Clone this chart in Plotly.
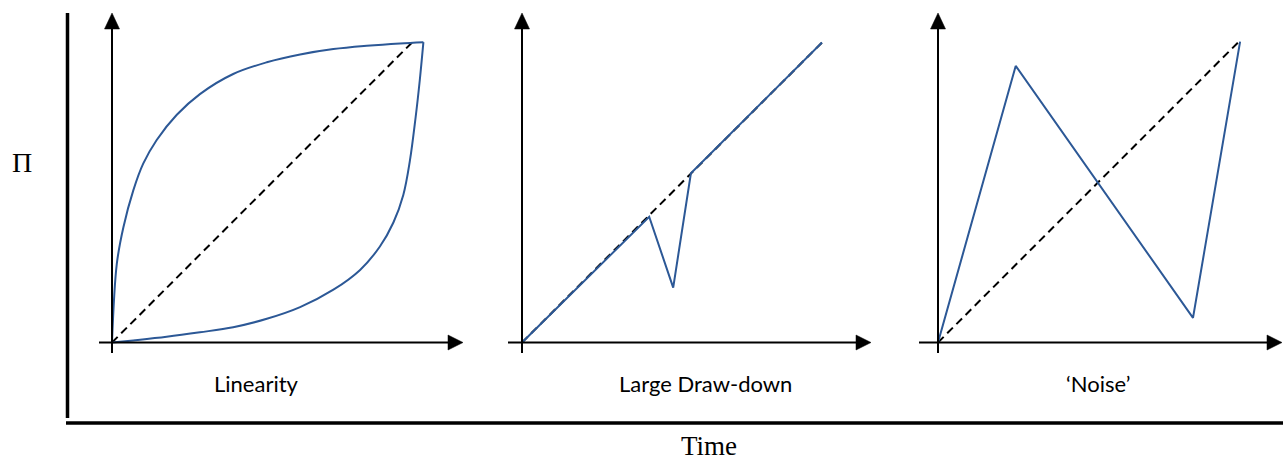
import plotly.graph_objects as go

W, H = 1283, 461

# ---- data (Time, Π) ----
# Panel 1: Linearity
lin_up_t = [0, 0.16, 0.38, 0.71, 1.04, 1.49, 2.16, 2.93, 4.04, 5.16, 6.27, 7.38, 8.49, 9.6, 10.38]
lin_up_p = [0, 2.62, 3.84, 5.07, 5.96, 6.75, 7.59, 8.28, 8.95, 9.34, 9.6, 9.78, 9.89, 9.97, 10.01]
lin_lo_t = [10.38, 10.26, 10.12, 9.93, 9.71, 9.38, 8.93, 8.27, 7.38, 6.27, 5.16, 4.04, 2.93, 1.82, 0.71, 0]
lin_lo_p = [10.01, 8.75, 7.5, 6.06, 4.92, 4.0, 3.2, 2.42, 1.76, 1.18, 0.79, 0.51, 0.34, 0.19, 0.07, 0]
# Panel 2: Large Draw-down
dd_t = [0, 4.24, 5.04, 5.63, 10.0]
dd_p = [0, 4.19, 1.83, 5.64, 10.0]
# Panel 3: 'Noise'
nz_t = [0, 2.59, 8.5, 10.07]
nz_p = [0, 9.22, 0.82, 10.03]
# Reference straight line
ref_t = [0, 10]
ref_p = [0, 10]

panel_titles = ["Linearity", "Large Draw-down", "\u2018Noise\u2019"]
y_label = "\u03a0"
x_label = "Time"

BLUE = "#2C5896"
SCALE = 30.0                      # pixels per data unit
ORIG_X = [112, 522, 938]          # pixel x of each panel origin
ORIG_Y = 342.5                    # pixel y of the panel origins
DOM_PX = [(90, 470), (498, 880), (905, 1283)]
YDOM_PX = (5, 362)
XAX_START = [99, 508, 919]        # pixel x where each time axis starts
XAX_TIP = [463, 871, 1282]        # pixel x of each arrow tip
Y_TIP, Y_BASE, Y_BOTTOM = 13, 29, 353

fig = go.Figure()
layout = dict(
    width=W, height=H, margin=dict(l=0, r=0, t=0, b=0),
    paper_bgcolor="white", plot_bgcolor="rgba(0,0,0,0)",
    showlegend=False,
)
shapes = []
annotations = []

series = [
    [(lin_up_t, lin_up_p, "spline"), (lin_lo_t, lin_lo_p, "spline")],
    [(dd_t, dd_p, "linear")],
    [(nz_t, nz_p, "linear")],
]

ydom = [1 - YDOM_PX[1] / H, 1 - YDOM_PX[0] / H]
yrange = [(ORIG_Y - YDOM_PX[1]) / SCALE, (ORIG_Y - YDOM_PX[0]) / SCALE]

for i in range(3):
    xa = "x" if i == 0 else f"x{i+1}"
    ya = "y" if i == 0 else f"y{i+1}"
    xkey = "xaxis" if i == 0 else f"xaxis{i+1}"
    ykey = "yaxis" if i == 0 else f"yaxis{i+1}"
    d0, d1 = DOM_PX[i]
    ox = ORIG_X[i]
    layout[xkey] = dict(domain=[d0 / W, d1 / W],
                        range=[(d0 - ox) / SCALE, (d1 - ox) / SCALE],
                        visible=False, fixedrange=True, anchor=ya)
    layout[ykey] = dict(domain=ydom, range=yrange,
                        visible=False, fixedrange=True, anchor=xa)

    # dashed reference
    fig.add_trace(go.Scatter(x=ref_t, y=ref_p, mode="lines", xaxis=xa, yaxis=ya,
                             line=dict(color="black", width=2, dash="8px,5px"),
                             hoverinfo="skip"))
    for (t, p, shp) in series[i]:
        fig.add_trace(go.Scatter(x=t, y=p, mode="lines", xaxis=xa, yaxis=ya,
                                 line=dict(color=BLUE, width=2, shape=shp, smoothing=1.0),
                                 hoverinfo="skip"))

    # axes with arrows (data units of each panel)
    yb = (ORIG_Y - Y_BOTTOM) / SCALE
    ytip = (ORIG_Y - Y_TIP) / SCALE
    ybase = (ORIG_Y - Y_BASE) / SCALE
    xs = (XAX_START[i] - ox) / SCALE
    xtip = (XAX_TIP[i] - ox) / SCALE
    xbase = xtip - 15 / SCALE
    hw = 7.5 / SCALE
    shapes.append(dict(type="line", xref=xa, yref=ya, x0=0, x1=0, y0=yb, y1=ybase + 0.05,
                       line=dict(color="black", width=2)))
    shapes.append(dict(type="path", xref=xa, yref=ya,
                       path=f"M {-hw},{ybase} L {hw},{ybase} L 0,{ytip} Z",
                       fillcolor="black", line=dict(color="black", width=0.5)))
    shapes.append(dict(type="line", xref=xa, yref=ya, x0=xs, x1=xbase + 0.05, y0=0, y1=0,
                       line=dict(color="black", width=2)))
    shapes.append(dict(type="path", xref=xa, yref=ya,
                       path=f"M {xbase},{-hw} L {xbase},{hw} L {xtip},0 Z",
                       fillcolor="black", line=dict(color="black", width=0.5)))

# outer axes (paper units)
shapes.append(dict(type="line", xref="paper", yref="paper",
                   x0=67.5 / W, x1=67.5 / W, y0=1 - 13 / H, y1=1 - 418 / H,
                   line=dict(color="black", width=3.5)))
shapes.append(dict(type="line", xref="paper", yref="paper",
                   x0=66 / W, x1=1.0, y0=1 - 423 / H, y1=1 - 423 / H,
                   line=dict(color="black", width=3.5)))

# panel captions
cap_x = [256, 705, 1098]
for i, txt in enumerate(panel_titles):
    annotations.append(dict(text=txt, x=cap_x[i] / W, y=1 - 383 / H, xref="paper", yref="paper",
                            showarrow=False, xanchor="center", yanchor="middle",
                            font=dict(family="Lato, Open Sans, sans-serif", size=22, color="black")))
annotations.append(dict(text=y_label, x=22 / W, y=1 - 163 / H, xref="paper", yref="paper",
                        showarrow=False, xanchor="center", yanchor="middle",
                        font=dict(family="Liberation Serif, Times New Roman, serif", size=28, color="black")))
annotations.append(dict(text=x_label, x=709 / W, y=1 - 446 / H, xref="paper", yref="paper",
                        showarrow=False, xanchor="center", yanchor="middle",
                        font=dict(family="Liberation Serif, Times New Roman, serif", size=27, color="black")))

layout["shapes"] = shapes
layout["annotations"] = annotations
fig.update_layout(**layout)
fig.write_html("out.html", config={"displayModeBar": False},
               post_script="document.body.style.margin='0';document.body.style.overflow='hidden';")
